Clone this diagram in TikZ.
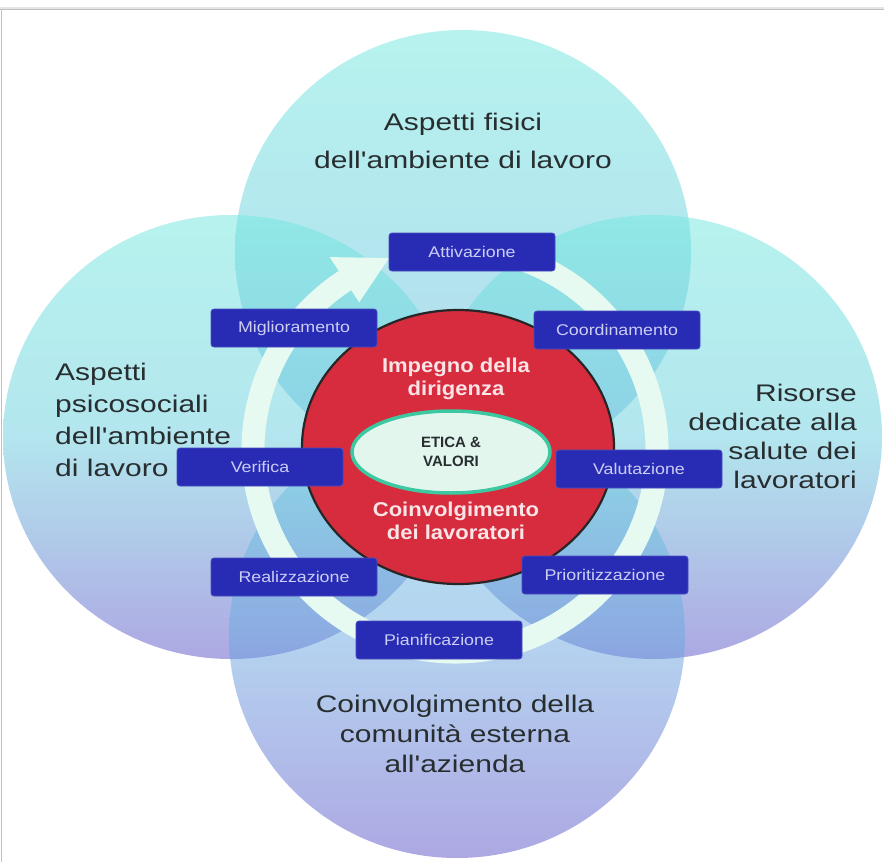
\documentclass[tikz,border=0pt]{standalone}
\usepackage{fontspec}
\setmainfont{Liberation Sans}
\newfontfamily\lblfont[FakeStretch=1.25]{Liberation Sans}
\newfontfamily\boxfont[FakeStretch=1.15]{Liberation Sans}
\newfontfamily\redfont[FakeStretch=1.1]{Liberation Sans}
\usetikzlibrary{shapes.geometric,calc}
\definecolor{cyanT}{RGB}{112,232,222}
\definecolor{cyanM}{RGB}{104,206,222}
\definecolor{blueB}{RGB}{108,170,226}
\definecolor{lavB}{RGB}{92,82,200}
\definecolor{boxblue}{RGB}{40,44,180}
\definecolor{boxtxt}{RGB}{204,206,244}
\definecolor{redc}{RGB}{214,44,62}
\definecolor{redtxt}{RGB}{250,228,230}
\definecolor{ringc}{RGB}{230,250,242}
\definecolor{ethfill}{RGB}{226,246,238}
\definecolor{ethline}{RGB}{60,200,160}
\definecolor{lbltxt}{RGB}{40,46,48}
\tikzset{
  bubble/.style={opacity=0.5},
  stepbox/.style={rectangle, rounded corners=3pt, fill=boxblue, draw=boxblue!85!white,
    line width=0.8pt, text=boxtxt, minimum width=166pt, minimum height=38pt, inner sep=0pt,
    font=\boxfont\fontsize{15.5}{18}\selectfont},
  outerlbl/.style={text=lbltxt, inner sep=0pt, font=\lblfont\fontsize{24}{30}\selectfont},
  redlbl/.style={text=redtxt, inner sep=0pt, align=center, font=\redfont\bfseries\fontsize{20}{23}\selectfont}
}
\begin{document}
\begin{tikzpicture}[x=1pt,y=-1pt]
\useasboundingbox (0,0) rectangle (884,862);
\fill[white] (0,0) rectangle (884,862);
% frame
\fill[black!10] (0,6.5) rectangle (884,8.5);
\fill[black!25] (0,8.5) rectangle (884,10);
\fill[black!25] (1,10) rectangle (2.3,862);
% four circles
\shade[bubble, top color=cyanT, bottom color=blueB, middle color=cyanM] (463,252) ellipse [x radius=228, y radius=222];
\shade[bubble, top color=cyanT, bottom color=lavB, middle color=cyanM] (231,437) ellipse [x radius=228, y radius=222];
\shade[bubble, top color=cyanT, bottom color=lavB, middle color=cyanM] (654,437) ellipse [x radius=228, y radius=222];
\shade[bubble, top color=cyanM, bottom color=lavB, middle color=blueB] (457,636) ellipse [x radius=228, y radius=222];
% cycle ring with arrow
\coordinate (rc) at (455,450);
\draw[ringc, line width=23pt] (rc) ++(-75:202) arc[start angle=-75, end angle=238, radius=202];
\fill[ringc] ($(rc)+(237:176)$) -- ($(rc)+(237:230)$) -- ($(rc)+(251:203)$) -- cycle;
% outer labels
\node[outerlbl, align=center] (lt) at (463,141) {Aspetti fisici\\[8pt]dell'ambiente di lavoro};
\node[outerlbl, align=left, anchor=west, font=\lblfont\fontsize{24}{32}\selectfont] (ll) at (55,420) {Aspetti\\psicosociali\\dell'ambiente\\di lavoro};
\node[outerlbl, align=right, anchor=east, font=\lblfont\fontsize{24}{29}\selectfont] (lr) at (857,436) {Risorse\\dedicate alla\\salute dei\\lavoratori};
\node[outerlbl, align=center] (lb) at (455,734) {Coinvolgimento della\\comunità esterna\\all'azienda};
% core
\node[ellipse, draw=black!85, line width=2.2pt, fill=redc, minimum width=312pt, minimum height=274pt] (core) at (458,447) {};
\node[redlbl] (imp) at (456,378.5) {Impegno della\\dirigenza};
\node[redlbl] (coi) at (456,520.5) {Coinvolgimento\\dei lavoratori};
\node[ellipse, fill=ethfill, draw=ethline, line width=3.5pt, minimum width=198pt, minimum height=82pt,
  inner sep=0pt, align=center, text=lbltxt, font=\bfseries\fontsize{15}{19}\selectfont] (eth) at (451,452) {ETICA \&\\VALORI};
% steps
\node[stepbox] (att) at (472,252) {Attivazione};
\node[stepbox] (coo) at (617,330) {Coordinamento};
\node[stepbox] (val) at (639,469) {Valutazione};
\node[stepbox] (pri) at (605,575) {Prioritizzazione};
\node[stepbox] (pia) at (439,640) {Pianificazione};
\node[stepbox] (rea) at (294,577) {Realizzazione};
\node[stepbox] (ver) at (260,467) {Verifica};
\node[stepbox] (mig) at (294,328) {Miglioramento};
\end{tikzpicture}
\end{document}
